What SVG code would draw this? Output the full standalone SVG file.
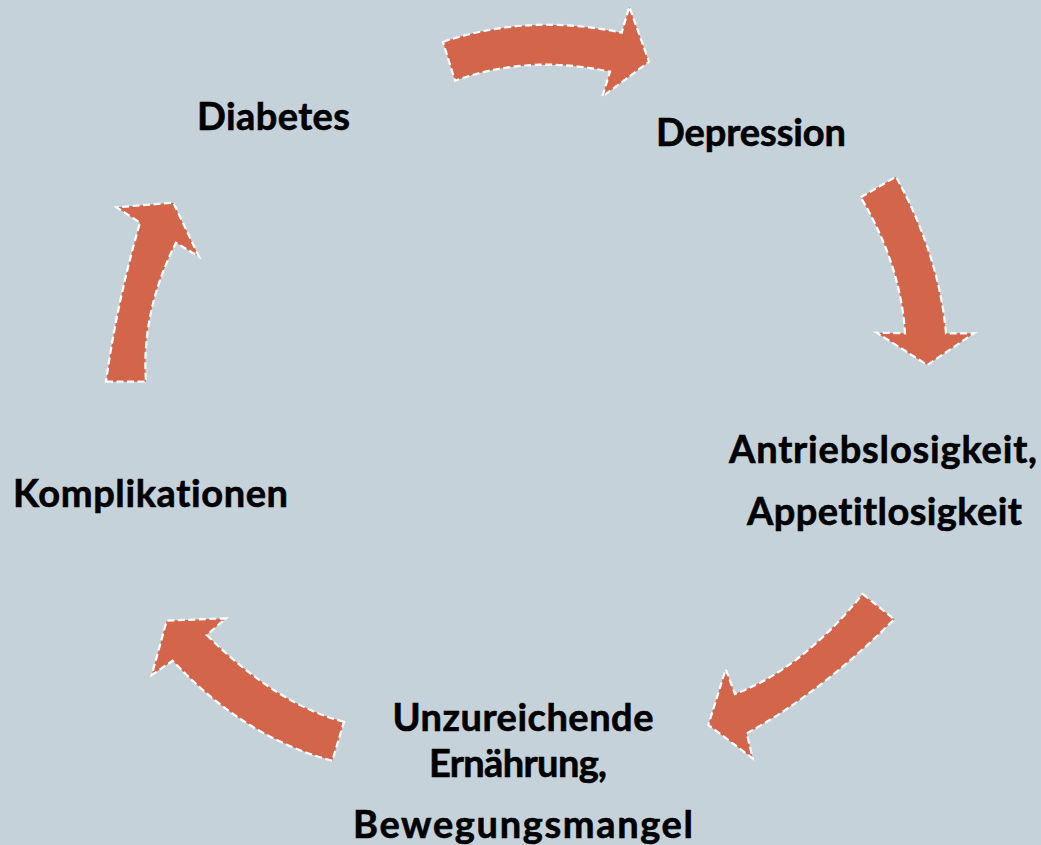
<svg xmlns="http://www.w3.org/2000/svg" width="1041" height="845" viewBox="0 0 1041 845">
<style>
.arrow{fill:#d2654a;stroke:#ffffff;stroke-width:2.2;stroke-dasharray:7 3.5;stroke-linejoin:miter}
.lbl{font-family:Lato,"Liberation Sans",sans-serif;font-weight:bold;font-size:38px;fill:#000000;text-anchor:middle;font-variant-ligatures:none;stroke:#000000;stroke-width:0.6}
</style>
<rect x="0" y="0" width="1041" height="845" fill="#c6d2d9"/>
<g id="connectors">
<path class="arrow" d="M443,42 Q528,13 621.7,32.7 L629.3,6.7 L649,61.7 L602.3,96.7 L610,71.7 Q528,54 455,80.7 Z"/>
<path class="arrow" d="M860.7,197.3 L896,176.7 Q939,255 946,333.3 L974,333.3 L927.3,365 L876.7,332.7 L905,333.3 Q901,265 860.7,197.3 Z"/>
<path class="arrow" d="M862.7,594 L894.3,619.3 Q819.5,693.7 746.7,733.3 L752.7,758.3 L708.3,725 L725.7,669.3 L735,694 Q801,669.4 862.7,594 Z"/>
<path class="arrow" d="M344,721.7 Q278.4,705.5 206.7,635 L226,618.3 L166.7,620.7 L151.7,675 L172.7,660.7 Q245,738 332.3,760.7 Z"/>
<path class="arrow" d="M106,381.7 L146,381.7 Q141,312 176,242.7 L199,256.7 L173.3,202.7 L116.7,207.3 L140,222.7 Q117,302 106,381.7 Z"/>
</g>
<g id="diabetes"><text class="lbl" x="273.5" y="130" textLength="153">Diabetes</text></g>
<g id="depression"><text class="lbl" x="751" y="146" textLength="190">Depression</text></g>
<g id="antriebslosigkeit">
<text class="lbl" x="883" y="463" textLength="308">Antriebslosigkeit,</text>
<text class="lbl" x="884.5" y="525" textLength="275">Appetitlosigkeit</text>
</g>
<g id="unzureichende">
<text class="lbl" x="523" y="731" textLength="261">Unzureichende</text>
<text class="lbl" x="518" y="777" textLength="178">Ernährung,</text>
<text class="lbl" x="523" y="838" textLength="340">Bewegungsmangel</text>
</g>
<g id="komplikationen"><text class="lbl" x="150.5" y="507" textLength="275">Komplikationen</text></g>
</svg>
